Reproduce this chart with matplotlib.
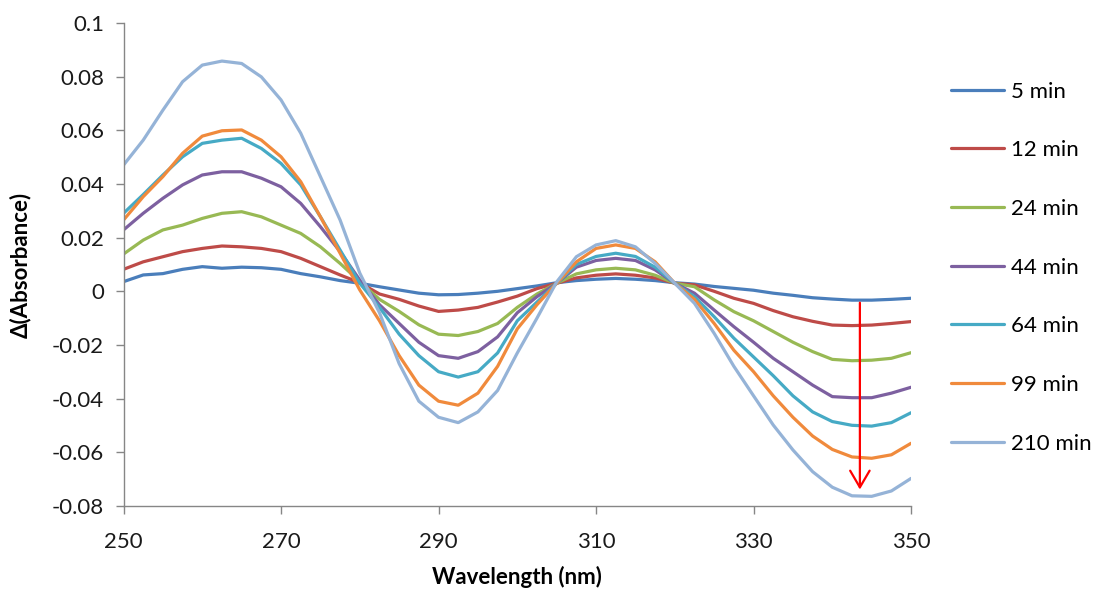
import matplotlib
matplotlib.use("Agg")
import matplotlib.pyplot as plt

plt.rcParams['font.family'] = ['Lato', 'DejaVu Sans']
plt.rcParams['axes.unicode_minus'] = False

# wavelength grid (nm)
wavelength = [250, 252.5, 255, 257.5, 260, 262.5, 265, 267.5, 270, 272.5,
              275, 277.5, 280, 282.5, 285, 287.5, 290, 292.5, 295, 297.5,
              300, 302.5, 305, 307.5, 310, 312.5, 315, 317.5, 320, 322.5,
              325, 327.5, 330, 332.5, 335, 337.5, 340, 342.5, 345, 347.5, 350]

# difference spectra at each time point
d_5min = [0.0036, 0.0061, 0.0066, 0.0082, 0.0092, 0.0086, 0.0090, 0.0088, 0.0082, 0.0066,
          0.0054, 0.0040, 0.0030, 0.0017, 0.0005, -0.0007, -0.0013, -0.0012, -0.0007, 0.0000,
          0.0010, 0.0020, 0.0032, 0.0040, 0.0045, 0.0048, 0.0045, 0.0040, 0.0032, 0.0027,
          0.0018, 0.0011, 0.0004, -0.0007, -0.0015, -0.0024, -0.0029, -0.0033, -0.0033, -0.0030, -0.0026]
d_12min = [0.0082, 0.0110, 0.0129, 0.0148, 0.0160, 0.0169, 0.0166, 0.0160, 0.0148, 0.0123,
           0.0092, 0.0061, 0.0032, -0.0010, -0.0030, -0.0055, -0.0075, -0.0070, -0.0060, -0.0040,
           -0.0018, 0.0010, 0.0030, 0.0050, 0.0060, 0.0065, 0.0060, 0.0050, 0.0030, 0.0024,
           0.0000, -0.0026, -0.0045, -0.0072, -0.0095, -0.0112, -0.0126, -0.0128, -0.0126, -0.0120, -0.0113]
d_24min = [0.0139, 0.0191, 0.0229, 0.0247, 0.0272, 0.0291, 0.0297, 0.0278, 0.0247, 0.0216,
           0.0166, 0.0104, 0.0036, -0.0030, -0.0075, -0.0125, -0.0160, -0.0165, -0.0150, -0.0120,
           -0.0060, -0.0010, 0.0030, 0.0065, 0.0080, 0.0086, 0.0080, 0.0060, 0.0030, 0.0017,
           -0.0032, -0.0076, -0.0110, -0.0150, -0.0190, -0.0225, -0.0254, -0.0259, -0.0257, -0.0250, -0.0229]
d_44min = [0.0229, 0.0291, 0.0347, 0.0397, 0.0434, 0.0446, 0.0446, 0.0422, 0.0390, 0.0328,
           0.0241, 0.0148, 0.0042, -0.0050, -0.0120, -0.0190, -0.0240, -0.0250, -0.0225, -0.0170,
           -0.0080, -0.0020, 0.0030, 0.0090, 0.0115, 0.0123, 0.0115, 0.0080, 0.0030, -0.0007,
           -0.0070, -0.0132, -0.0190, -0.0250, -0.0300, -0.0350, -0.0393, -0.0397, -0.0397, -0.0380, -0.0358]
d_64min = [0.0291, 0.0361, 0.0434, 0.0502, 0.0552, 0.0564, 0.0571, 0.0533, 0.0477, 0.0397,
           0.0278, 0.0154, 0.0030, -0.0060, -0.0160, -0.0240, -0.0300, -0.0320, -0.0300, -0.0230,
           -0.0110, -0.0040, 0.0030, 0.0100, 0.0130, 0.0142, 0.0130, 0.0090, 0.0030, -0.0020,
           -0.0095, -0.0175, -0.0245, -0.0315, -0.0390, -0.0450, -0.0486, -0.0500, -0.0503, -0.0490, -0.0453]
d_99min = [0.0266, 0.0353, 0.0428, 0.0515, 0.0579, 0.0599, 0.0602, 0.0564, 0.0502, 0.0409,
           0.0278, 0.0142, 0.0005, -0.0110, -0.0240, -0.0350, -0.0410, -0.0425, -0.0380, -0.0280,
           -0.0140, -0.0050, 0.0030, 0.0110, 0.0160, 0.0173, 0.0160, 0.0110, 0.0030, -0.0030,
           -0.0120, -0.0220, -0.0300, -0.0390, -0.0470, -0.0540, -0.0590, -0.0618, -0.0623, -0.0610, -0.0567]
d_210min = [0.0471, 0.0564, 0.0676, 0.0782, 0.0844, 0.0859, 0.0850, 0.0800, 0.0714, 0.0590,
            0.0428, 0.0266, 0.0068, -0.0080, -0.0270, -0.0410, -0.0470, -0.0490, -0.0450, -0.0370,
            -0.0230, -0.0100, 0.0035, 0.0129, 0.0173, 0.0189, 0.0166, 0.0104, 0.0030, -0.0045,
            -0.0157, -0.0280, -0.0390, -0.0499, -0.0592, -0.0673, -0.0731, -0.0763, -0.0765, -0.0745, -0.0698]

labels = ['5 min', '12 min', '24 min', '44 min', '64 min', '99 min', '210 min']
series = [d_5min, d_12min, d_24min, d_44min, d_64min, d_99min, d_210min]
colors = ['#4A7EBB', '#BE4B48', '#98B954', '#7D60A0', '#46AAC5', '#F08A3C', '#95B3D7']

# trend arrow (wavelength, start value, end value)
arrow_x = 343.5
arrow_y0 = -0.0032
arrow_y1 = -0.0750

fig = plt.figure(figsize=(10.99, 5.91), dpi=100)
ax = fig.add_axes([0.1124, 0.1443, 0.7166, 0.8163])

for y, lab, c in zip(series, labels, colors):
    ax.plot(wavelength, y, color=c, lw=2.3, label=lab, solid_capstyle='round')

ax.annotate('', xy=(arrow_x, arrow_y1), xytext=(arrow_x, arrow_y0),
            arrowprops=dict(arrowstyle='->,head_length=1.2,head_width=0.7',
                            color='#FF0000', lw=1.6))

ax.set_xlim(250, 350)
ax.set_ylim(-0.08, 0.1)
ax.set_xticks([250, 270, 290, 310, 330, 350])
yt = [-0.08, -0.06, -0.04, -0.02, 0, 0.02, 0.04, 0.06, 0.08, 0.1]
ax.set_yticks(yt)
ax.set_yticklabels([f'{v:g}' for v in yt])

for s in ['top', 'right']:
    ax.spines[s].set_visible(False)
for s in ['left', 'bottom']:
    ax.spines[s].set_color('#868686')
    ax.spines[s].set_linewidth(1.0)
ax.tick_params(axis='both', direction='out', length=6, width=1.0,
               color='#868686', labelsize=16, labelcolor='#1a1a1a')
ax.tick_params(axis='x', pad=13)
ax.tick_params(axis='y', pad=8)

ax.set_xlabel('Wavelength (nm)', fontsize=16, fontweight='bold', labelpad=10)
ax.set_ylabel('Δ(Absorbance)', fontsize=16, fontweight='bold', labelpad=15)

ax.legend(loc='upper left', bbox_to_anchor=(0.857, 0.877), bbox_transform=fig.transFigure,
          frameon=False, fontsize=16, handlelength=2.4, handletextpad=0.3,
          labelspacing=1.74, borderaxespad=0)

fig.savefig('out.png', dpi=100)
